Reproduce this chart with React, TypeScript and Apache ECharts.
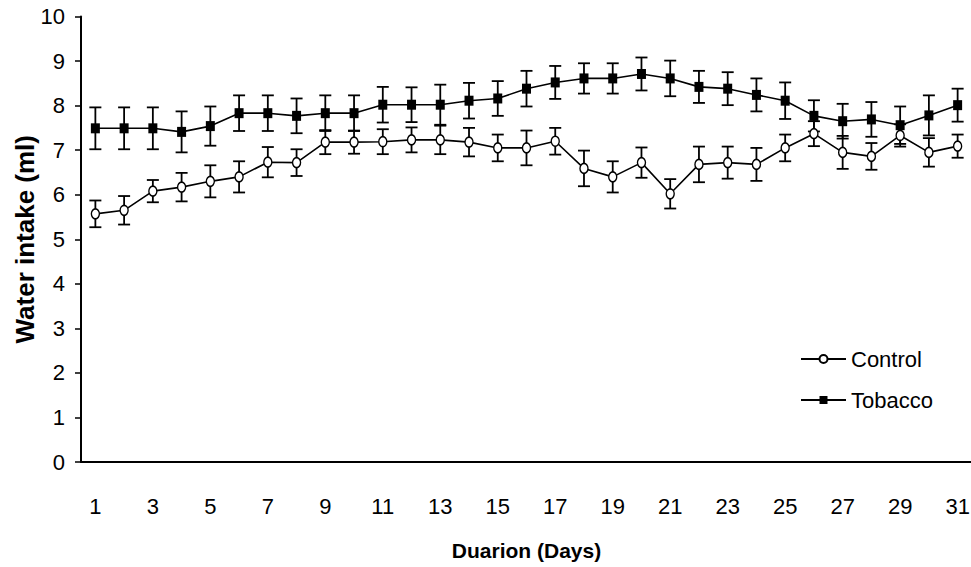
import React, { useEffect, useRef } from "react";
import * as echarts from "echarts";

const days = Array.from({ length: 31 }, (_, i) => String(i + 1));

const controlMean = [5.57, 5.65, 6.08, 6.17, 6.30, 6.40, 6.73, 6.72, 7.18, 7.18, 7.19, 7.23, 7.23, 7.18, 7.05, 7.05, 7.20, 6.59, 6.40, 6.72, 6.02, 6.68, 6.72, 6.68, 7.05, 7.37, 6.95, 6.86, 7.33, 6.95, 7.09];
const controlErr = [0.30, 0.32, 0.25, 0.32, 0.36, 0.35, 0.34, 0.30, 0.27, 0.26, 0.28, 0.28, 0.32, 0.32, 0.30, 0.39, 0.30, 0.40, 0.35, 0.34, 0.33, 0.40, 0.36, 0.37, 0.30, 0.28, 0.37, 0.30, 0.25, 0.32, 0.26];

const tobaccoMean = [7.49, 7.49, 7.49, 7.41, 7.54, 7.83, 7.83, 7.77, 7.83, 7.83, 8.02, 8.02, 8.02, 8.11, 8.16, 8.38, 8.52, 8.61, 8.61, 8.71, 8.61, 8.42, 8.38, 8.24, 8.11, 7.77, 7.65, 7.69, 7.56, 7.78, 8.01];
const tobaccoErr = [0.47, 0.47, 0.47, 0.46, 0.44, 0.40, 0.40, 0.39, 0.40, 0.40, 0.40, 0.39, 0.45, 0.40, 0.39, 0.40, 0.37, 0.34, 0.34, 0.37, 0.40, 0.36, 0.37, 0.37, 0.41, 0.35, 0.39, 0.39, 0.42, 0.45, 0.37];

const FONT = "'Liberation Sans', Arial, sans-serif";
const ELLIPSE = "path://M0,-1A1,1 0 1,1 0,1A1,1 0 1,1 0,-1Z";

function errData(mean: number[], err: number[]) {
  return mean.map((m, i) => [i, m - err[i], m + err[i]]);
}

function renderErr(params: any, api: any) {
  const x = api.value(0);
  const lo = api.coord([x, api.value(1)]);
  const hi = api.coord([x, api.value(2)]);
  const half = 6;
  const style = { stroke: "#000", lineWidth: 1.8 };
  return {
    type: "group",
    children: [
      { type: "line", shape: { x1: hi[0], y1: hi[1], x2: lo[0], y2: lo[1] }, style },
      { type: "line", shape: { x1: hi[0] - half, y1: hi[1], x2: hi[0] + half, y2: hi[1] }, style },
      { type: "line", shape: { x1: lo[0] - half, y1: lo[1], x2: lo[0] + half, y2: lo[1] }, style },
    ],
  };
}

export default function App() {
  const ref = useRef<HTMLDivElement>(null);
  useEffect(() => {
    if (!ref.current) return;
    const chart = echarts.init(ref.current, null, { renderer: "svg" });
    chart.setOption({
      animation: false,
      backgroundColor: "#fff",
      grid: { left: 81, top: 16.5, width: 891, height: 445.5, outerBoundsMode: "none", containLabel: false },
      legend: {
        orient: "vertical",
        left: 800,
        top: 348,
        padding: 0,
        itemWidth: 45,
        itemHeight: 10,
        itemGap: 19,
        textStyle: { fontFamily: FONT, fontSize: 22, color: "#000" },
        data: ["Control", "Tobacco"],
      },
      xAxis: {
        type: "category",
        data: days,
        boundaryGap: true,
        name: "Duarion (Days)",
        nameLocation: "middle",
        nameGap: 78,
        nameMoveOverlap: false,
        nameTextStyle: { fontFamily: FONT, fontWeight: "bold", fontSize: 21, color: "#000" },
        axisLine: { lineStyle: { color: "#000", width: 2 } },
        axisTick: { interval: 0, length: 7, lineStyle: { color: "#000", width: 1.5 } },
        axisLabel: { interval: 1, margin: 33, fontFamily: FONT, fontSize: 22, color: "#000" },
        splitLine: { show: false },
      },
      yAxis: {
        type: "value",
        min: 0,
        max: 10,
        interval: 1,
        name: "Water intake (ml)",
        nameLocation: "middle",
        nameGap: 43,
        nameMoveOverlap: false,
        nameTextStyle: { fontFamily: FONT, fontWeight: "bold", fontSize: 26, color: "#000" },
        axisLine: { show: true, lineStyle: { color: "#000", width: 2 } },
        axisTick: { show: true, length: 6, lineStyle: { color: "#000", width: 1.5 } },
        axisLabel: { margin: 16, fontFamily: FONT, fontSize: 22, color: "#000" },
        splitLine: { show: false },
      },
      series: [
        {
          name: "ControlErr",
          type: "custom",
          z: 1,
          renderItem: renderErr,
          encode: { x: 0, y: [1, 2] },
          data: errData(controlMean, controlErr),
        },
        {
          name: "TobaccoErr",
          type: "custom",
          z: 1,
          renderItem: renderErr,
          encode: { x: 0, y: [1, 2] },
          data: errData(tobaccoMean, tobaccoErr),
        },
        {
          name: "Control",
          type: "line",
          z: 3,
          data: controlMean,
          symbol: ELLIPSE,
          symbolSize: [8, 10],
          showAllSymbol: true,
          lineStyle: { color: "#000", width: 1.6 },
          itemStyle: { color: "#fff", borderColor: "#000", borderWidth: 1.5 },
        },
        {
          name: "Tobacco",
          type: "line",
          z: 3,
          data: tobaccoMean,
          symbol: "rect",
          symbolSize: [9, 10],
          showAllSymbol: true,
          lineStyle: { color: "#000", width: 1.6 },
          itemStyle: { color: "#000", borderColor: "#000", borderWidth: 0 },
        },
      ],
    });
    return () => chart.dispose();
  }, []);
  return <div ref={ref} style={{ position: "fixed", left: 0, top: 0, width: 971, height: 567 }} />;
}
